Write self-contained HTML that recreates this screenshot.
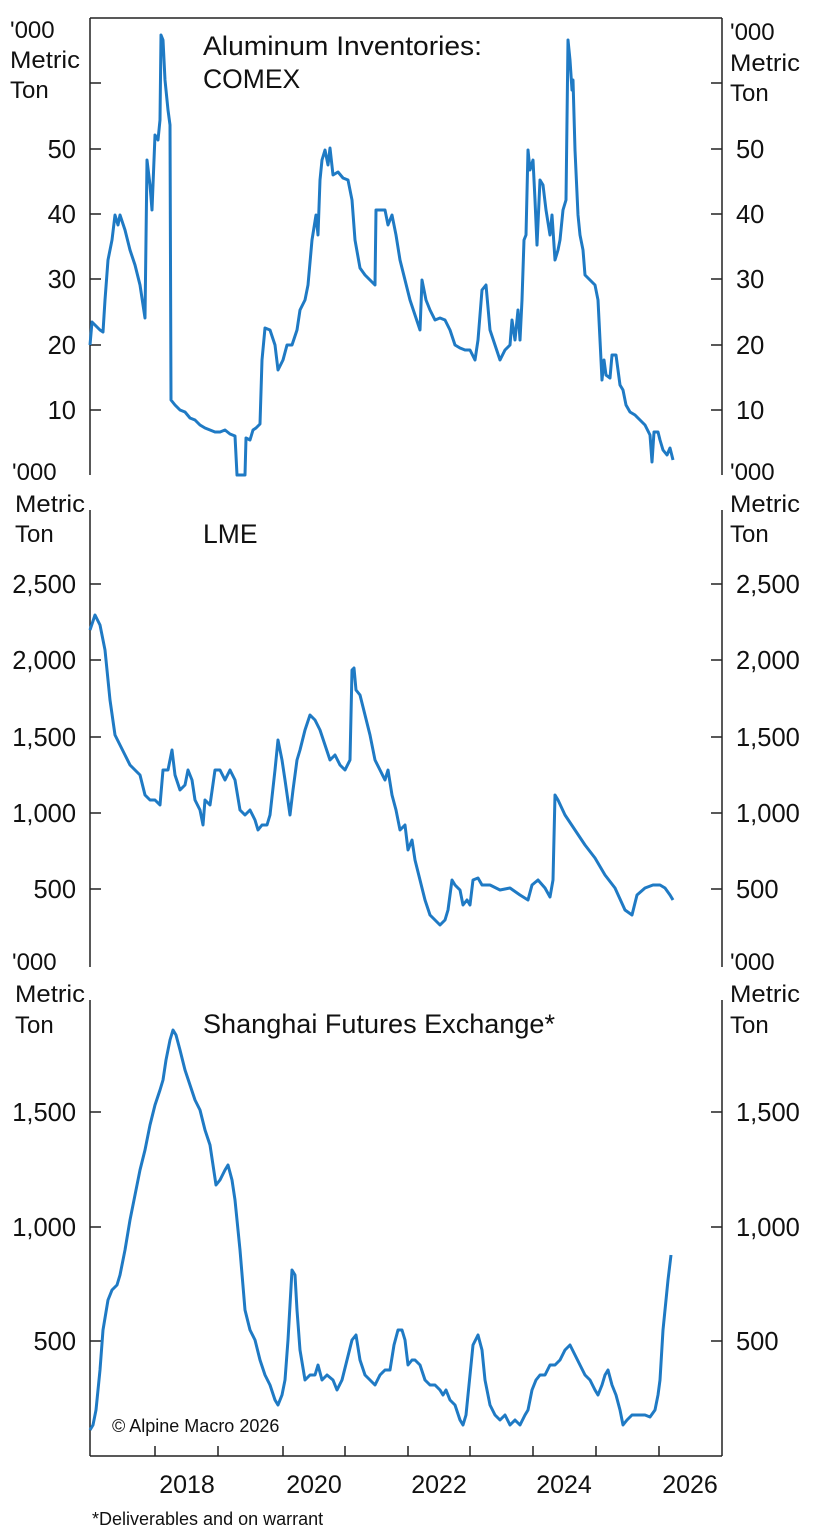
<!DOCTYPE html>
<html><head><meta charset="utf-8"><style>
html,body{margin:0;padding:0;background:#fff}
svg{display:block}
text{font-family:"Liberation Sans",Arial,sans-serif;fill:#111}
</style></head><body>
<svg width="822" height="1536" viewBox="0 0 822 1536" xmlns="http://www.w3.org/2000/svg">
<g stroke="#222" stroke-width="1.5" fill="none">
<line x1="90" y1="18" x2="722" y2="18"/>
<line x1="90" y1="18" x2="90" y2="475"/>
<line x1="722" y1="18" x2="722" y2="475"/>
<line x1="90" y1="510" x2="90" y2="967"/>
<line x1="722" y1="510" x2="722" y2="967"/>
<line x1="90" y1="1000" x2="90" y2="1456"/>
<line x1="722" y1="1000" x2="722" y2="1456"/>
<line x1="90" y1="1456" x2="722" y2="1456"/>
<path d="M90 83h11M90 149h11M90 214h11M90 279h11M90 345h11M90 410h11M722 83h-11M722 149h-11M722 214h-11M722 279h-11M722 345h-11M722 410h-11"/>
<path d="M90 584h11M90 660h11M90 737h11M90 813h11M90 889h11M722 584h-11M722 660h-11M722 737h-11M722 813h-11M722 889h-11"/>
<path d="M90 1112h11M90 1227h11M90 1341h11M722 1112h-11M722 1227h-11M722 1341h-11"/>
<path d="M155 1456v-10M218 1456v-10M283 1456v-10M345 1456v-10M408 1456v-10M470 1456v-10M533 1456v-10M596 1456v-10M659 1456v-10"/>
</g>
<g font-size="24">
<text x="10" y="38">'000</text><text x="10" y="68" textLength="70" lengthAdjust="spacingAndGlyphs">Metric</text><text x="10" y="98">Ton</text>
<text x="730" y="40">'000</text><text x="730" y="71" textLength="70" lengthAdjust="spacingAndGlyphs">Metric</text><text x="730" y="101">Ton</text>
<text x="12" y="480">'000</text><text x="15" y="512" textLength="70" lengthAdjust="spacingAndGlyphs">Metric</text><text x="15" y="542">Ton</text>
<text x="730" y="480">'000</text><text x="730" y="512" textLength="70" lengthAdjust="spacingAndGlyphs">Metric</text><text x="730" y="542">Ton</text>
<text x="12" y="970">'000</text><text x="15" y="1002" textLength="70" lengthAdjust="spacingAndGlyphs">Metric</text><text x="15" y="1033">Ton</text>
<text x="730" y="970">'000</text><text x="730" y="1002" textLength="70" lengthAdjust="spacingAndGlyphs">Metric</text><text x="730" y="1033">Ton</text>
</g>
<g font-size="25.5" text-anchor="end">
<text x="76" y="158">50</text><text x="76" y="223">40</text><text x="76" y="288">30</text><text x="76" y="354">20</text><text x="76" y="419">10</text>
<text x="76" y="593">2,500</text><text x="76" y="669">2,000</text><text x="76" y="746">1,500</text><text x="76" y="822">1,000</text><text x="76" y="898">500</text>
<text x="76" y="1121">1,500</text><text x="76" y="1236">1,000</text><text x="76" y="1350">500</text>
</g>
<g font-size="25.5">
<text x="736" y="158">50</text><text x="736" y="223">40</text><text x="736" y="288">30</text><text x="736" y="354">20</text><text x="736" y="419">10</text>
<text x="736" y="593">2,500</text><text x="736" y="669">2,000</text><text x="736" y="746">1,500</text><text x="736" y="822">1,000</text><text x="736" y="898">500</text>
<text x="736" y="1121">1,500</text><text x="736" y="1236">1,000</text><text x="736" y="1350">500</text>
</g>
<g font-size="26.5">
<text x="203" y="55" textLength="279" lengthAdjust="spacingAndGlyphs">Aluminum Inventories:</text><text x="203" y="88">COMEX</text>
<text x="203" y="543">LME</text>
<text x="203" y="1033" textLength="352" lengthAdjust="spacingAndGlyphs">Shanghai Futures Exchange*</text>
</g>
<g font-size="25" text-anchor="middle">
<text x="187" y="1493">2018</text><text x="314" y="1493">2020</text><text x="439" y="1493">2022</text><text x="564" y="1493">2024</text><text x="690" y="1493">2026</text>
</g>
<text x="112" y="1432" font-size="18">© Alpine Macro 2026</text>
<text x="92" y="1525" font-size="18">*Deliverables and on warrant</text>
<g fill="none" stroke="#1f7ac4" stroke-width="3" stroke-linejoin="round">
<polyline points="90,345 92,322 95,325 100,330 103,332 105,300 108,260 112,240 115,215 118,225 120,215 125,230 130,250 135,265 140,285 145,318 147,160 150,185 152,210 155,135 158,140 160,120 161,35 163,40 165,80 168,110 170,125 171,400 175,405 180,410 185,412 190,418 195,420 200,425 205,428 210,430 215,432 220,432 225,430 230,434 235,436 237,475 245,475 246,438 250,440 253,430 256,428 260,424 262,360 265,328 270,330 275,345 278,370 283,360 287,345 292,345 297,330 300,310 305,300 308,285 312,240 316,215 318,235 320,180 322,160 325,150 328,165 330,148 333,175 338,172 343,178 348,180 352,200 355,240 360,268 365,275 370,280 375,285 376,210 385,210 388,225 392,215 396,235 400,260 405,280 410,300 415,315 420,330 422,280 426,300 430,310 435,320 440,318 445,320 450,330 455,345 460,348 465,350 470,350 475,360 478,340 482,290 486,285 490,330 495,345 500,360 505,350 510,345 512,320 515,340 518,310 520,340 522,300 524,240 526,235 528,150 530,170 533,160 535,200 537,245 540,180 543,185 546,210 550,235 552,215 555,260 558,250 560,240 563,210 566,200 568,40 570,60 572,90 573,80 575,150 578,215 580,235 583,250 585,275 590,280 595,285 598,300 600,340 602,380 604,360 606,375 610,378 612,355 616,355 620,385 623,390 626,405 630,412 635,415 640,420 645,425 650,435 652,462 654,432 658,432 660,440 663,450 667,455 670,448 673,460"/>
<polyline points="90,630 95,615 100,625 105,650 110,700 115,735 120,745 125,755 130,765 135,770 140,775 145,795 150,800 155,800 160,805 163,770 168,770 172,750 175,775 180,790 185,785 188,770 192,780 195,800 200,810 203,825 205,800 210,805 215,770 220,770 225,780 230,770 235,780 240,810 245,815 250,810 255,820 258,830 262,825 267,825 270,815 275,770 278,740 282,760 285,780 290,815 293,790 297,760 300,750 305,730 310,715 315,720 320,730 325,745 330,760 335,755 340,765 345,770 350,760 352,670 354,668 356,690 360,695 365,715 370,735 375,760 380,770 385,780 388,770 392,795 396,810 400,830 405,825 408,850 412,840 415,860 420,880 425,900 430,915 435,920 440,925 445,920 448,910 452,880 455,885 460,890 463,905 467,900 470,905 473,880 478,878 482,885 490,885 500,890 510,888 520,895 528,900 532,885 538,880 545,888 550,897 553,880 555,795 558,800 565,815 575,830 585,845 595,858 605,875 615,888 625,910 632,915 637,895 645,888 653,885 657,885 660,885 665,888 670,895 673,900"/>
<polyline points="90,1430 93,1425 96,1410 100,1370 103,1330 108,1300 112,1290 117,1285 120,1275 125,1250 130,1220 135,1195 140,1170 145,1150 150,1125 155,1105 160,1090 163,1080 166,1060 170,1040 173,1030 176,1035 180,1050 185,1070 190,1085 195,1100 200,1110 205,1130 210,1145 213,1165 216,1185 220,1180 225,1170 228,1165 232,1180 235,1200 240,1250 245,1310 250,1330 255,1340 260,1360 265,1375 270,1385 275,1400 278,1405 282,1395 285,1380 288,1340 292,1270 295,1275 297,1310 300,1350 305,1380 310,1375 315,1375 318,1365 322,1380 327,1375 333,1380 337,1390 342,1380 347,1360 352,1340 356,1335 360,1360 365,1375 370,1380 375,1385 380,1375 385,1370 390,1370 394,1345 398,1330 402,1330 405,1340 408,1365 412,1360 415,1360 420,1365 425,1380 430,1385 435,1385 440,1390 443,1395 446,1390 450,1400 455,1405 460,1420 463,1425 466,1415 470,1375 473,1345 478,1335 482,1350 485,1380 490,1405 495,1415 500,1420 505,1415 510,1425 515,1420 520,1425 525,1415 528,1410 532,1390 536,1380 540,1375 545,1375 550,1365 555,1365 560,1360 565,1350 570,1345 575,1355 580,1365 585,1375 590,1380 595,1390 598,1395 602,1385 605,1375 608,1370 612,1385 616,1395 620,1410 623,1425 627,1420 632,1415 636,1415 640,1415 645,1415 650,1417 655,1410 658,1395 660,1380 663,1330 666,1300 668,1280 671,1255"/>
</g>
</svg>
</body></html>
